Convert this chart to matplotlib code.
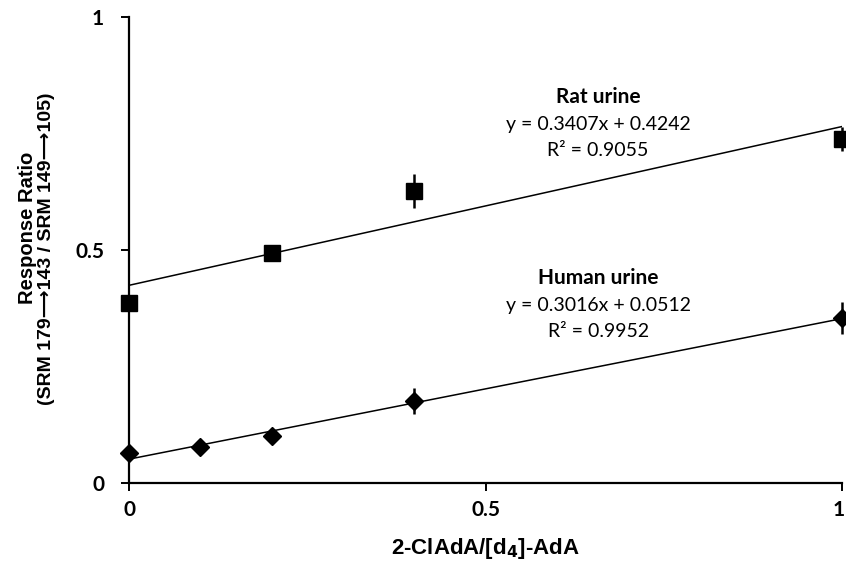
import numpy as np
import matplotlib
matplotlib.use("Agg")
import matplotlib.pyplot as plt
from matplotlib.transforms import ScaledTranslation

# ratio of 2-ClAdA to [d4]-AdA spiked in
rat_x = [0.0, 0.2, 0.4, 1.0]
rat_y = [0.386, 0.494, 0.627, 0.738]
rat_err = [0.0, 0.0, 0.036, 0.025]
rat_fit = (0.3407, 0.4242, 0.9055)

human_x = [0.0, 0.1, 0.2, 0.4, 1.0]
human_y = [0.064, 0.077, 0.101, 0.176, 0.354]
human_err = [0.0, 0.0, 0.0, 0.027, 0.035]
human_fit = (0.3016, 0.0512, 0.9952)

ticks = [0, 0.5, 1]
tick_labels = ["0", "0.5", "1"]

fig = plt.figure(figsize=(8.46, 5.64), dpi=100)
ax = fig.add_axes([0.1525, 0.1436, 0.8428, 0.8263])

xx = np.array([0.0, 1.0])
for xs, ys, es, (m, b, r2), mk, ms in [
    (rat_x, rat_y, rat_err, rat_fit, "s", 11),
    (human_x, human_y, human_err, human_fit, "D", 9),
]:
    ax.plot(xx, m * xx + b, color="black", lw=1.1, zorder=2)
    ax.errorbar(xs, ys, yerr=es, fmt=mk, color="black", ms=ms, elinewidth=1.8,
                capsize=0, zorder=3, clip_on=False)

ax.set_xlim(0, 1)
ax.set_ylim(0, 1)
for s in ("top", "right"):
    ax.spines[s].set_visible(False)
for s in ("left", "bottom"):
    ax.spines[s].set_linewidth(1.6)
ax.set_xticks(ticks)
ax.set_xticklabels(tick_labels)
ax.set_yticks(ticks)
ax.set_yticklabels(tick_labels)
ax.tick_params(direction="out", length=6, width=1.4)
ax.tick_params(axis="x", pad=6)
ax.tick_params(axis="y", pad=12)
for lab in ax.get_xticklabels() + ax.get_yticklabels():
    lab.set_fontfamily("Lato")
    lab.set_fontweight("bold")
    lab.set_fontsize(15)
# last x label sits on the image edge, keep it inside
last = ax.get_xticklabels()[-1]
last.set_horizontalalignment("right")
last.set_transform(last.get_transform() + ScaledTranslation(3 / 100, 0, fig.dpi_scale_trans))

ax.set_xlabel("2-ClAdA/[d$_\\mathbf{4}$]-AdA", fontfamily="Liberation Sans",
              fontweight="bold", fontsize=16, labelpad=12)
fig.text(0.033, 0.596, "Response Ratio", rotation=90, ha="center", va="center",
         fontfamily="Liberation Sans", fontweight="bold", fontsize=14.5)
fig.text(0.0555, 0.5585, "(SRM 179\u27f6143 / SRM 149\u27f6105)", rotation=90,
         ha="center", va="center", family=["Liberation Sans", "DejaVu Sans"],
         fontweight="bold", fontsize=14)

for name, (m, b, r2), ytop in [("Rat urine", rat_fit, 0.828),
                               ("Human urine", human_fit, 0.44)]:
    ax.text(0.658, ytop, name, ha="center", va="center", fontfamily="Lato",
            fontweight="bold", fontsize=15)
    ax.text(0.658, ytop - 0.059, f"y = {m:.4f}x + {b:.4f}", ha="center",
            va="center", fontfamily="Lato", fontsize=14)
    ax.text(0.658, ytop - 0.114, f"R\u00b2 = {r2:.4f}", ha="center",
            va="center", fontfamily="Lato", fontsize=14)

fig.savefig("out.png", dpi=100)
